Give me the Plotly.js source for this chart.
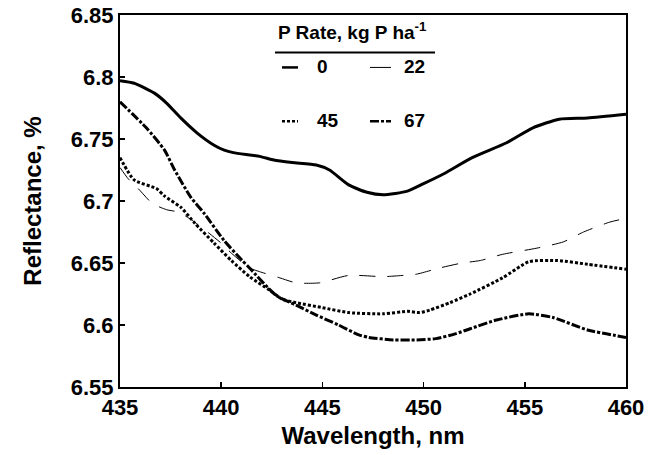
<!DOCTYPE html>
<html>
<head>
<meta charset="utf-8">
<script src="https://cdn.plot.ly/plotly-3.0.1.min.js"></script>
<style>html,body{margin:0;padding:0;background:#fff;}#chart{width:657px;height:455px;}</style>
</head>
<body>
<div id="chart"></div>
<script>
// Wavelength (nm) and reflectance (%) for each P rate (kg P/ha)
const wl0 = [435,435.7,436.7,437.3,438,438.8,439.65,440.15,440.6,441.9,442.6,443.5,444.7,445.35,446.3,447.2,448,449.2,450,451,452.4,454.1,455.4,456.7,458.1,460];
const r0  = [6.797,6.795,6.787,6.779,6.767,6.755,6.745,6.741,6.739,6.736,6.733,6.731,6.729,6.725,6.713,6.707,6.705,6.708,6.714,6.722,6.735,6.747,6.759,6.766,6.767,6.770];

const wl22 = [435,435.4,435.9,436.6,437.3,437.9,438.6,439.4,440,440.5,441.4,441.9,442.9,443.7,444.85,446.3,448,449,449.65,450.8,451.9,452.8,453.9,455.6,456.9,457.9,459.2,460];
const r22  = [6.727,6.718,6.710,6.698,6.693,6.691,6.684,6.674,6.666,6.658,6.646,6.643,6.638,6.634,6.634,6.640,6.639,6.640,6.641,6.646,6.650,6.652,6.657,6.662,6.667,6.675,6.683,6.686];

const wl45 = [435,435.7,436.8,437.2,438,438.7,439.65,440.5,441.4,442.4,443,443.7,445,446.3,448,449.2,449.8,450.3,451.3,452.3,453.9,455.2,456.6,458.1,460];
const r45  = [6.735,6.717,6.710,6.704,6.695,6.682,6.666,6.652,6.639,6.628,6.621,6.618,6.614,6.610,6.609,6.611,6.610,6.612,6.618,6.625,6.638,6.651,6.652,6.649,6.645];

const wl67 = [435,436.3,437.2,437.7,438.5,439.16,440.15,441.04,441.4,442.7,443.7,444.7,445.8,446.8,447.3,448.5,449.65,450.6,451.6,452.3,453.6,455.2,456.4,458.1,460];
const r67  = [6.780,6.759,6.741,6.725,6.703,6.690,6.668,6.652,6.646,6.624,6.616,6.608,6.600,6.592,6.590,6.588,6.588,6.589,6.593,6.597,6.604,6.609,6.606,6.596,6.590];

const seriesNames = ['0','22','45','67'];
const xTicks = [435,440,445,450,455,460];
const yTicks = [6.55,6.6,6.65,6.7,6.75,6.8,6.85];
const yTickText = ['6.55','6.6','6.65','6.7','6.75','6.8','6.85'];

const styles = [
  {width:3, dash:'solid'},
  {width:1, dash:'16px,12px'},
  {width:3, dash:'3px,2px'},
  {width:3, dash:'9px,2px,3px,2px'}
];
const xs = [wl0, wl22, wl45, wl67];
const ys = [r0, r22, r45, r67];

const traces = seriesNames.map((n,i)=>({
  x: xs[i], y: ys[i], name: n, type:'scatter', mode:'lines',
  line:{color:'#000', width:styles[i].width, dash:styles[i].dash, shape:'spline', smoothing:0.6},
  showlegend:false, hoverinfo:'skip'
}));

// Plot area pixel geometry (for legend placement in paper coords)
const L=120, R=626, T=14.5, B=387;
const px = v => (v-L)/(R-L);
const py = v => (B-v)/(B-T);
const F = 'Liberation Sans, Arial, sans-serif';

const legendRows = [
  {name:seriesNames[0], style:styles[0], x0:282, x1:298, y:67,  tx:315},
  {name:seriesNames[1], style:styles[1], x0:370, x1:391, y:67,  tx:402},
  {name:seriesNames[2], style:styles[2], x0:282, x1:298, y:121, tx:315},
  {name:seriesNames[3], style:styles[3], x0:370, x1:391, y:121, tx:402}
];

const shapes = [
  {type:'line', xref:'paper', yref:'paper', x0:px(275), x1:px(435), y0:py(52), y1:py(52), line:{color:'#000', width:2}}
];
const annotations = [
  {xref:'paper', yref:'paper', x:px(352), y:py(31), text:'P Rate, kg P ha<sup>-1</sup>', showarrow:false, xanchor:'center', yanchor:'middle', font:{family:F, size:19, color:'#000', weight:'bold'}}
];
legendRows.forEach(r=>{
  shapes.push({type:'line', xref:'paper', yref:'paper', x0:px(r.x0), x1:px(r.x1), y0:py(r.y), y1:py(r.y),
    line:{color:'#000', width:r.style.width===1?1:2.5, dash:r.style.width===1?'solid':r.style.dash}});
  annotations.push({xref:'paper', yref:'paper', x:px(r.tx), y:py(r.y-1), text:r.name, showarrow:false, xanchor:'left', yanchor:'middle', font:{family:F, size:19, color:'#000', weight:'bold'}});
});

const layout = {
  width:657, height:455,
  margin:{l:L, r:657-R, t:T, b:455-B, pad:0},
  paper_bgcolor:'#fff', plot_bgcolor:'#fff',
  showlegend:false,
  font:{family:F, color:'#000'},
  xaxis:{
    range:[435,460], tickvals:xTicks, ticktext:xTicks.map(String),
    ticks:'inside', ticklen:5, tickwidth:1.5, tickcolor:'#000',
    showline:true, linecolor:'#000', linewidth:2, mirror:true,
    showgrid:false, zeroline:false,
    tickfont:{family:F, size:22, color:'#000', weight:'bold'},
    title:{text:'Wavelength, nm', font:{family:F, size:24, color:'#000', weight:'bold'}, standoff:8}
  },
  yaxis:{
    range:[6.55,6.85], tickvals:yTicks, ticktext:yTickText,
    ticks:'inside', ticklen:5, tickwidth:1.5, tickcolor:'#000',
    showline:true, linecolor:'#000', linewidth:2, mirror:true,
    showgrid:false, zeroline:false,
    tickfont:{family:F, size:22, color:'#000', weight:'bold'},
    title:{text:'Reflectance, %', font:{family:F, size:24, color:'#000', weight:'bold'}, standoff:22}
  },
  shapes:shapes,
  annotations:annotations
};

Plotly.newPlot('chart', traces, layout, {displayModeBar:false, staticPlot:true});
</script>
</body>
</html>
